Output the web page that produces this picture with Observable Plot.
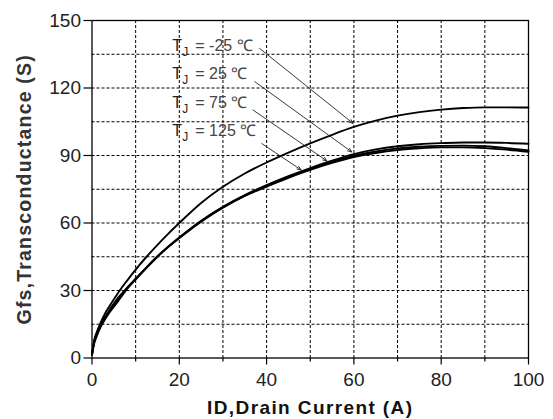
<!DOCTYPE html>
<html>
<head>
<meta charset="utf-8">
<script src="https://cdn.jsdelivr.net/npm/d3@7"></script>
<script src="https://cdn.jsdelivr.net/npm/@observablehq/plot@0.6"></script>
<style>
  html, body { margin: 0; padding: 0; background: #fff; }
</style>
</head>
<body>
<div id="chart"></div>
<script>
// Drain current (A)
const currentA = [0, 0.5, 1, 2, 3, 4, 6, 8, 10, 12.5, 15, 17.5, 20, 25, 30, 35, 40, 45, 50, 55, 60, 65, 70, 75, 80, 85, 90, 95, 100];
// Gfs (S) for each junction temperature
const gfsM25 = [1.5, 7.8, 11, 15.8, 19.8, 23, 29, 34.3, 39.3, 45, 50.3, 55.3, 60, 68.9, 76.1, 82.0, 86.9, 91.3, 95.4, 99.2, 102.7, 105.5, 107.7, 109.3, 110.4, 111.1, 111.4, 111.4, 111.3];
const gfs25  = [1.5, 6.5, 9.3, 13.8, 17.2, 20.2, 25.3, 30.6, 35, 40.2, 45.2, 49.6, 53.6, 61, 67.2, 72.4, 76.8, 80.8, 84.4, 87.7, 90.6, 92.7, 94.1, 95.0, 95.5, 95.8, 95.8, 95.6, 95.2];
const gfs75  = [1.5, 7, 10, 14.4, 17.8, 20.8, 26.3, 30.8, 35, 40.1, 45, 49.4, 53.4, 60.8, 67, 72.2, 76.5, 80.5, 84.0, 87.2, 89.9, 91.8, 93.1, 93.9, 94.3, 94.4, 94.1, 93.3, 92.2];
const gfs125 = [1.5, 7.5, 10.5, 14.8, 18.3, 21.3, 26.8, 31.2, 35.3, 40.3, 45.1, 49.4, 53.3, 60.6, 66.8, 72, 76.2, 80.1, 83.6, 86.7, 89.3, 91.1, 92.4, 93.2, 93.6, 93.6, 93.3, 92.6, 91.6];

// Tick values
const xTicks = [0, 20, 40, 60, 80, 100];
const xMinorTicks = [10, 30, 50, 70, 90];
const yTicks = [0, 30, 60, 90, 120, 150];
const xGrid = [10, 20, 30, 40, 50, 60, 70, 80, 90];
const yGrid = [15, 30, 45, 60, 75, 90, 105, 120, 135];

// Annotations (data units)
const tempLabels = ["-25 ℃", "25 ℃", "75 ℃", "125 ℃"];
const labelX = [18.4, 18.4, 18.4, 18.4];
const labelY = [136.4, 124.0, 111.2, 98.7];
const arrowX1 = [38.4, 37.3, 36.9, 38.9];
const arrowY1 = [137.6, 122.8, 110.2, 95.3];
const arrowX2 = [59.8, 59.5, 53.8, 47.9];
const arrowY2 = [104.3, 91.6, 87.6, 83.6];

const xLabel = "ID,Drain Current (A)";
const yLabel = "Gfs,Transconductance (S)";

const series = [gfsM25, gfs25, gfs75, gfs125];
const lineData = series.flatMap((vals, s) => vals.map((v, i) => ({x: currentA[i], y: v, s: tempLabels[s]})));
const labelData = tempLabels.map((t, i) => ({t, x: labelX[i], y: labelY[i]}));
const arrowData = tempLabels.map((t, i) => ({x1: arrowX1[i], y1: arrowY1[i], x2: arrowX2[i], y2: arrowY2[i]}));

const dash = {stroke: "#000", strokeOpacity: 1, strokeWidth: 1, strokeDasharray: "3,2"};

const chart = Plot.plot({
  width: 553,
  height: 419,
  marginLeft: 91.5,
  marginRight: 25,
  marginTop: 20,
  marginBottom: 61.5,
  x: {domain: [0, 100]},
  y: {domain: [0, 150]},
  style: {fontFamily: "'Liberation Sans', Arial, sans-serif", fontSize: "19px", color: "#222", background: "#fff"},
  marks: [
    Plot.gridX(xGrid, dash),
    Plot.gridY(yGrid, dash),
    Plot.frame({stroke: "#000", strokeWidth: 1.3}),
    Plot.axisX(xTicks, {tickSize: 7, tickPadding: 7, fontSize: 19, label: null, stroke: "#000", strokeWidth: 1.2, fill: "#222"}),
    Plot.axisX(xMinorTicks, {tickSize: 4, text: null, label: null, stroke: "#000", strokeWidth: 1.2}),
    Plot.axisY(yTicks, {tickSize: 8, tickPadding: 3, fontSize: 19, label: null, stroke: "#000", strokeWidth: 1.2, fill: "#222"}),
    Plot.line(lineData, {x: "x", y: "y", z: "s", stroke: "#000", strokeWidth: 1.9, curve: "monotone-x"}),
    Plot.arrow(arrowData, {x1: "x1", y1: "y1", x2: "x2", y2: "y2", stroke: "#222", strokeWidth: 0.9, headLength: 7, headAngle: 45}),
    Plot.text(labelData, {x: "x", y: "y", text: () => "T", textAnchor: "start", lineAnchor: "bottom", fontSize: 16, fill: "#222"}),
    Plot.text(labelData, {x: "x", y: "y", text: () => "J", textAnchor: "start", lineAnchor: "bottom", fontSize: 12, dx: 10, dy: 5, fill: "#222"}),
    Plot.text(labelData, {x: "x", y: "y", text: d => "= " + d.t, textAnchor: "start", lineAnchor: "bottom", fontSize: 16, dx: 23, fill: "#444"}),
    Plot.text([xLabel], {frameAnchor: "bottom", textAnchor: "middle", lineAnchor: "bottom", dy: 55.5, fontSize: 19, fontWeight: "bold", fill: "#111"}),
    Plot.text([yLabel], {frameAnchor: "left", textAnchor: "middle", lineAnchor: "middle", rotate: -90, dx: -67.5, fontSize: 19.5, fontWeight: "bold", fill: "#333"})
  ]
});
// widen the bold axis titles to match the original lettering
d3.select(chart).selectAll("text").filter(function () { return this.textContent === xLabel; }).style("letter-spacing", "1.4px");
d3.select(chart).selectAll("text").filter(function () { return this.textContent === yLabel; }).style("letter-spacing", "1.2px");
document.getElementById("chart").appendChild(chart);
</script>
</body>
</html>
